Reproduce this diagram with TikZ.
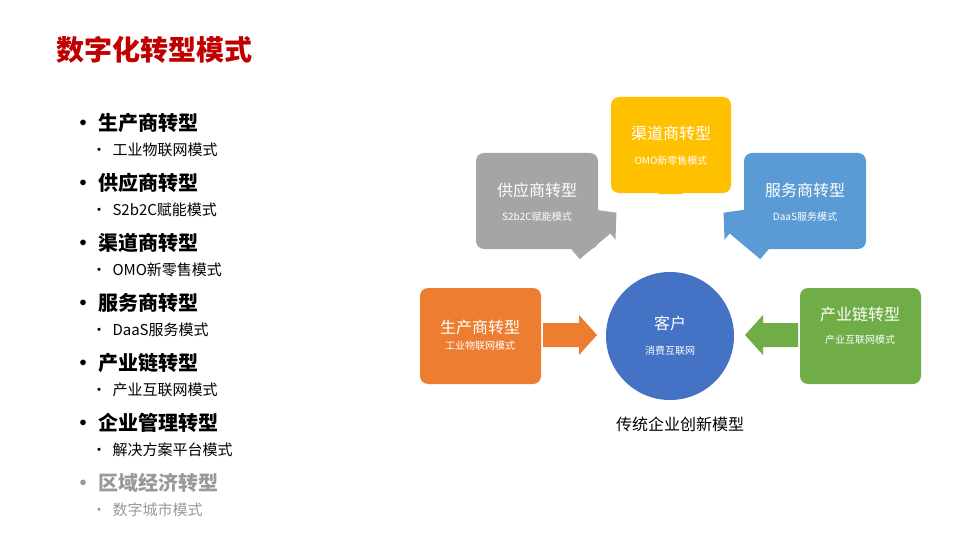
\documentclass[tikz,border=0pt]{standalone}
\usepackage{fontspec}
\setmainfont{Noto Sans CJK SC}
\definecolor{ored}{HTML}{C00000}
\definecolor{corange}{HTML}{ED7D31}
\definecolor{cgray}{HTML}{A5A5A5}
\definecolor{cyellow}{HTML}{FFC000}
\definecolor{cblue}{HTML}{5B9BD5}
\definecolor{cgreen}{HTML}{70AD47}
\definecolor{ccircle}{HTML}{4472C4}
\newcommand{\barrow}[5]{% x,y,angle,length,color
\begin{scope}[shift={(#1,#2)},rotate=#3]
\fill[#5] (0,-12)--(#4-18,-12)--(#4-18,-20)--(#4,0)--(#4-18,20)--(#4-18,12)--(0,12)--cycle;
\end{scope}}
\tikzset{box/.style={rounded corners=8pt,minimum width=121pt,minimum height=95pt,text=white,align=center,inner sep=0},
head/.style={font=\fontsize{20}{24}\selectfont\bfseries,anchor=west},
sub/.style={font=\fontsize{15}{18}\selectfont,anchor=west},
bt/.style={font=\fontsize{16}{19}\selectfont},
bs/.style={font=\fontsize{10}{12}\selectfont}}
\begin{document}
\begin{tikzpicture}[x=1pt,y=-1pt]
\useasboundingbox (0,0) rectangle (960,540);
\fill[white] (0,0) rectangle (960,540);
\node[anchor=west,text=ored,font=\fontsize{28}{32}\selectfont\bfseries] (title) at (53,50) {数字化转型模式};
\foreach \i/\h/\s in {0/生产商转型/工业物联网模式,1/供应商转型/S2b2C赋能模式,2/渠道商转型/OMO新零售模式,3/服务商转型/DaaS服务模式,4/产业链转型/产业互联网模式,5/企业管理转型/解决方案平台模式}{
 \node[head] (h\i) at (70,123+60*\i) {• \h};
 \node[sub] (s\i) at (88,150+60*\i) {•\hspace{6pt}\s};
}
\node[head,text=gray!80] (h6) at (70,483) {• 区域经济转型};
\node[sub,text=gray!80] (s6) at (88,510) {•\hspace{6pt}数字城市模式};
% boxes
\fill[corange,rounded corners=8pt] (420,288) rectangle (541,384);
\fill[cgray,rounded corners=8pt] (476,153) rectangle (598,249);
\fill[cyellow,rounded corners=8pt] (611,97) rectangle (731,193);
\fill[cblue,rounded corners=8pt] (744,153) rectangle (866,249);
\fill[cgreen,rounded corners=8pt] (800,288) rectangle (921,384);
\barrow{543}{335}{0}{54}{corange}
\barrow{798}{335}{180}{53}{cgreen}
\barrow{670}{194}{90}{70}{cyellow}
\barrow{572}{250}{40}{58}{cgray}
\barrow{768}{250}{140}{58}{cblue}
\fill[ccircle] (670,336) circle (64);
\node[bt,text=white] (c1) at (670,323) {客户};
\node[bs,text=white] (c2) at (670,351) {消费互联网};
\node[bt,text=white] (o1) at (480,327) {生产商转型};
\node[bs,text=white] (o2) at (480,346) {工业物联网模式};
\node[bt,text=white] (g1) at (537,190) {供应商转型};
\node[bs,text=white] (g2) at (537,217) {S2b2C赋能模式};
\node[bt,text=white] (y1) at (671,133) {渠道商转型};
\node[bs,text=white] (y2) at (671,161) {OMO新零售模式};
\node[bt,text=white] (b1) at (805,190) {服务商转型};
\node[bs,text=white] (b2) at (805,217) {DaaS服务模式};
\node[bt,text=white] (gr1) at (860,314) {产业链转型};
\node[bs,text=white] (gr2) at (860,340) {产业互联网模式};
\node[font=\fontsize{16}{19}\selectfont] (cap) at (680,424) {传统企业创新模型};
\end{tikzpicture}
\end{document}
